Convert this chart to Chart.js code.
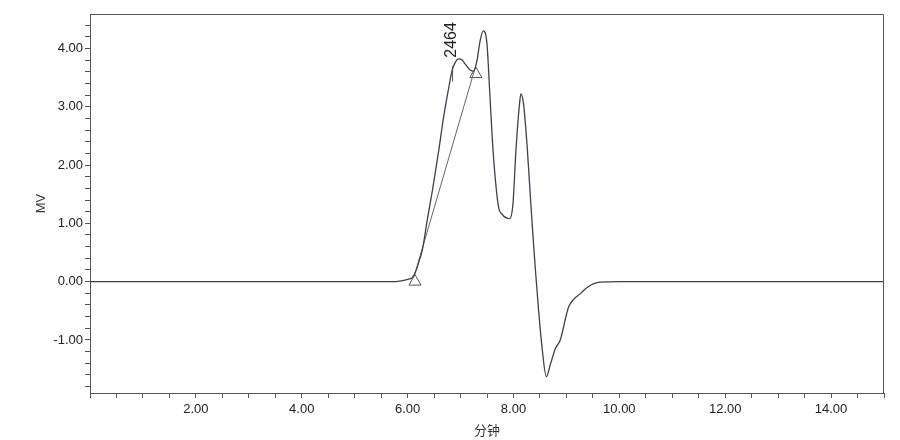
<!DOCTYPE html>
<html>
<head>
<meta charset="utf-8">
<script src="https://cdn.jsdelivr.net/npm/chart.js@4"></script>
<style>
  html, body { margin: 0; padding: 0; background: #fff; }
  #wrap { width: 900px; height: 440px; }
</style>
</head>
<body>
<div id="wrap"><canvas id="chromChart" width="900" height="440"></canvas></div>
<script>
// chromatogram trace (minutes, MV)
const timeMin = [0, 2, 4, 5.7, 5.85, 5.97, 6.05, 6.09, 6.16, 6.22, 6.28, 6.37, 6.47, 6.59, 6.68, 6.78, 6.84, 6.90, 6.96, 7.03, 7.09, 7.18, 7.25, 7.31, 7.37, 7.43, 7.50, 7.54, 7.60, 7.66, 7.72, 7.78, 7.93, 7.99, 8.05, 8.12, 8.14, 8.19, 8.26, 8.32, 8.36, 8.41, 8.47, 8.54, 8.62, 8.70, 8.79, 8.88, 9.04, 9.14, 9.26, 9.39, 9.64, 10.02, 12, 15];
const signalMv = [0, 0, 0, 0, 0.01, 0.03, 0.05, 0.07, 0.19, 0.36, 0.55, 1.05, 1.57, 2.26, 2.82, 3.34, 3.62, 3.76, 3.82, 3.80, 3.73, 3.63, 3.61, 3.79, 4.13, 4.30, 4.08, 3.45, 2.45, 1.73, 1.27, 1.16, 1.08, 1.33, 2.30, 3.10, 3.22, 3.05, 2.30, 1.45, 0.90, 0.25, -0.44, -1.13, -1.63, -1.41, -1.15, -1.01, -0.44, -0.30, -0.21, -0.10, -0.01, 0, 0, 0];

// integration baseline (start / end) and its triangle markers
const baselineX = [6.13, 7.28];
const baselineY = [0.11, 3.68];
const markerX = [6.14, 7.29];
const markerY = [0.0, 3.56];

// peak apex tick and label
const peakTime = 6.85;
const peakTickY = [3.43, 3.69];
const peakLabel = '2464';
const peakLabelY = 3.84;

const xTickLabels = [2, 4, 6, 8, 10, 12, 14];
const yTickLabels = [-1, 0, 1, 2, 3, 4];

const FONT = "'Liberation Sans', Arial, sans-serif";

function pairs(xs, ys) {
  return xs.map((x, i) => ({ x: x, y: ys[i] }));
}

// frame on top/right and peak label
const extras = {
  id: 'extras',
  afterDatasetsDraw(chart) {
    const { ctx, chartArea, scales } = chart;
    ctx.save();
    ctx.strokeStyle = '#555';
    ctx.lineWidth = 1;
    ctx.beginPath();
    ctx.moveTo(chartArea.left, chartArea.top + 0.5);
    ctx.lineTo(chartArea.right - 0.5, chartArea.top + 0.5);
    ctx.lineTo(chartArea.right - 0.5, chartArea.bottom);
    ctx.stroke();

    const px = scales.x.getPixelForValue(peakTime) - 1;
    const py = scales.y.getPixelForValue(peakLabelY);
    ctx.translate(px, py);
    ctx.rotate(-Math.PI / 2);
    ctx.fillStyle = '#222';
    ctx.font = '16px ' + FONT;
    ctx.textAlign = 'left';
    ctx.textBaseline = 'middle';
    ctx.fillText(peakLabel, 0, 0);
    ctx.restore();
  }
};

const ctx = document.getElementById('chromChart').getContext('2d');
new Chart(ctx, {
  type: 'line',
  data: {
    datasets: [
      {
        label: 'trace',
        data: pairs(timeMin, signalMv),
        borderColor: '#4a3a4e',
        borderWidth: 1.3,
        pointRadius: 0,
        cubicInterpolationMode: 'monotone'
      },
      {
        label: 'baseline',
        data: pairs(baselineX, baselineY),
        borderColor: '#666',
        borderWidth: 1,
        pointRadius: 0
      },
      {
        label: 'markers',
        data: pairs(markerX, markerY),
        showLine: false,
        pointStyle: 'triangle',
        pointRadius: 7,
        pointBorderWidth: 1,
        pointBorderColor: '#555',
        pointBackgroundColor: 'rgba(0,0,0,0)'
      },
      {
        label: 'apex',
        data: pairs([peakTime, peakTime], peakTickY),
        borderColor: '#555',
        borderWidth: 1,
        pointRadius: 0
      }
    ]
  },
  options: {
    responsive: false,
    animation: false,
    layout: { padding: { left: 0, right: 16, top: 14, bottom: 0 } },
    plugins: {
      legend: { display: false },
      tooltip: { enabled: false }
    },
    scales: {
      x: {
        type: 'linear',
        min: 0,
        max: 15,
        afterFit(scale) { scale.height = 47; },
        border: { color: '#555', width: 1 },
        grid: { drawOnChartArea: false, drawTicks: true, tickLength: 5, color: '#555' },
        ticks: {
          stepSize: 0.5,
          autoSkip: false,
          maxRotation: 0,
          padding: 4,
          color: '#222',
          font: { family: FONT, size: 13 },
          callback: v => xTickLabels.includes(v) ? v.toFixed(2) : ''
        },
        title: {
          display: true,
          text: '分钟',
          color: '#333',
          font: { family: "'Noto Sans CJK SC', sans-serif", size: 13 },
          padding: { top: 0, bottom: 2 }
        }
      },
      y: {
        min: -1.91,
        max: 4.59,
        afterFit(scale) { scale.width = 90; },
        border: { color: '#555', width: 1 },
        grid: { drawOnChartArea: false, drawTicks: true, tickLength: 5, color: '#555' },
        ticks: {
          stepSize: 0.2,
          includeBounds: false,
          autoSkip: false,
          padding: 2,
          color: '#222',
          font: { family: FONT, size: 13 },
          callback: v => {
            const r = Math.round(v);
            return (Math.abs(v - r) < 1e-6 && yTickLabels.includes(r)) ? r.toFixed(2) : '';
          }
        },
        title: {
          display: true,
          text: 'MV',
          color: '#333',
          font: { family: FONT, size: 13 },
          padding: { top: 34, bottom: 0 }
        }
      }
    }
  },
  plugins: [extras]
});
</script>
</body>
</html>
